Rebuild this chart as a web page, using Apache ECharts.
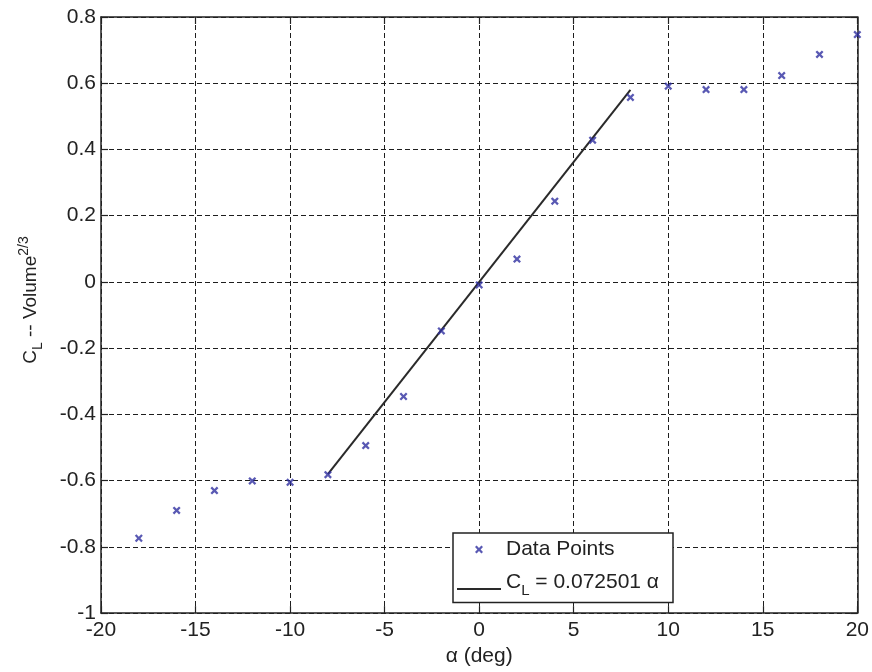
<!DOCTYPE html>
<html>
<head>
<meta charset="utf-8">
<script src="https://cdn.jsdelivr.net/npm/echarts@6/dist/echarts.min.js"></script>
<style>
  html, body { margin: 0; padding: 0; background: #fff; }
  #chart { width: 872px; height: 672px; }
</style>
</head>
<body>
<div id="chart"></div>
<script>
// Angle of attack (deg) and measured lift coefficient
const alphaDeg = [-18, -16, -14, -12, -10, -8, -6, -4, -2, 0, 2, 4, 6, 8, 10, 12, 14, 16, 18, 20];
const liftCoeff = [-0.774, -0.690, -0.630, -0.601, -0.605, -0.582, -0.494, -0.346, -0.148, -0.009,
                   0.069, 0.244, 0.428, 0.557, 0.591, 0.581, 0.581, 0.623, 0.687, 0.747];

// Linear fit over the attached-flow range
const fitSlope = 0.072501;
const fitRange = [-8, 8];

const xTicks = { min: -20, max: 20, interval: 5 };
const yTicks = { min: -1, max: 0.8, interval: 0.2 };

const fitLine = fitRange.map(a => [a, fitSlope * a]);
const points = alphaDeg.map((a, i) => [a, liftCoeff[i]]);

const font = 'Liberation Sans, Arial, Helvetica, sans-serif';
const ink = '#222';
const markColor = '#3030a0';
// bold "x" marker
const crossPath = 'path://M0,2 L2,0 L5,3 L8,0 L10,2 L7,5 L10,8 L8,10 L5,7 L2,10 L0,8 L3,5 Z';
// same marker inside a larger (empty) frame so it stays small in the legend row
const crossLegend = 'path://M0,0 L0.01,0 L0,0.01 Z M16,16 L15.99,16 L16,15.99 Z ' +
  'M4,5.6 L5.6,4 L8,6.4 L10.4,4 L12,5.6 L9.6,8 L12,10.4 L10.4,12 L8,9.6 L5.6,12 L4,10.4 L6.4,8 Z';
// legend line sits low in its row, level with the subscript baseline
const lineLegend = 'path://M0,0 L0.01,0 L0,0.01 Z M0,13 L44,13 L44,15.2 L0,15.2 Z';

const gridLine = { show: true, lineStyle: { color: '#1e1e1e', type: [5, 3], width: 1 } };
const sideAxis = {
  axisLine: { show: true, onZero: false, lineStyle: { color: ink, width: 1.5 } },
  axisTick: { show: true, inside: true, length: 7, lineStyle: { color: ink, width: 1.2 } }
};

const chart = echarts.init(document.getElementById('chart'), null, { renderer: 'canvas' });
chart.setOption({
  animation: false,
  backgroundColor: '#fff',
  textStyle: { fontFamily: font },
  grid: { left: 101, right: 11, top: 17, bottom: 56, show: false, containLabel: false },
  xAxis: [Object.assign({
    type: 'value', min: xTicks.min, max: xTicks.max, interval: xTicks.interval,
    position: 'bottom',
    axisLabel: { color: ink, fontSize: 21, margin: 7, fontFamily: font },
    splitLine: gridLine,
    name: 'α (deg)', nameLocation: 'middle', nameGap: 31,
    nameTextStyle: { color: ink, fontSize: 21, fontFamily: font }
  }, sideAxis), Object.assign({
    type: 'value', min: xTicks.min, max: xTicks.max, interval: xTicks.interval,
    position: 'top',
    axisLabel: { show: false }, splitLine: { show: false }
  }, sideAxis)],
  yAxis: [Object.assign({
    type: 'value', min: yTicks.min, max: yTicks.max, interval: yTicks.interval,
    position: 'left',
    axisLabel: { color: ink, fontSize: 21, margin: 5, fontFamily: font },
    splitLine: gridLine,
    name: '{a|C}{sub|L}{a| -- Volume}{sup|2/3}',
    nameLocation: 'middle', nameGap: 56, nameRotate: 90,
    nameTextStyle: {
      color: ink, fontSize: 19, fontFamily: font, padding: [0, 0, 0, 30],
      rich: {
        a: { fontSize: 19, color: ink, fontFamily: font },
        sub: { fontSize: 14, color: ink, fontFamily: font, verticalAlign: 'bottom', padding: [14, 0, 0, 0] },
        sup: { fontSize: 14, color: ink, fontFamily: font, verticalAlign: 'top', padding: [0, 0, 12, 0] }
      }
    }
  }, sideAxis), Object.assign({
    type: 'value', min: yTicks.min, max: yTicks.max, interval: yTicks.interval,
    position: 'right',
    axisLabel: { show: false }, splitLine: { show: false }
  }, sideAxis)],
  legend: {
    left: 453, top: 533, orient: 'vertical',
    backgroundColor: '#fff', borderColor: ink, borderWidth: 1.5,
    padding: [6, 14, 4, 4], itemGap: 12,
    itemWidth: 44, itemHeight: 16, itemTextGap: 5,
    textStyle: {
      color: ink, fontSize: 21, fontFamily: font,
      rich: {
        a: { fontSize: 21, color: ink, fontFamily: font },
        sub: { fontSize: 15, color: ink, fontFamily: font, verticalAlign: 'top', padding: [17, 0, 0, 0] }
      }
    },
    formatter: function (name) {
      if (name === 'fit') return '{a|C}{sub|L}{a| = ' + fitSlope + ' α}';
      return '{a|' + name + '}';
    },
    data: [
      { name: 'Data Points', icon: crossLegend },
      { name: 'fit', icon: lineLegend, itemStyle: { color: '#2a2a2a' } }
    ]
  },
  series: [{
    name: 'fit', type: 'line', data: fitLine, xAxisIndex: 0, yAxisIndex: 0,
    showSymbol: false, symbol: 'none',
    lineStyle: { color: '#2a2a2a', width: 2 },
    itemStyle: { color: '#2a2a2a' },
    z: 3
  }, {
    name: 'Data Points', type: 'scatter', data: points, xAxisIndex: 0, yAxisIndex: 0,
    symbol: crossPath, symbolSize: 8,
    itemStyle: { color: markColor },
    z: 4
  }]
});
</script>
</body>
</html>
